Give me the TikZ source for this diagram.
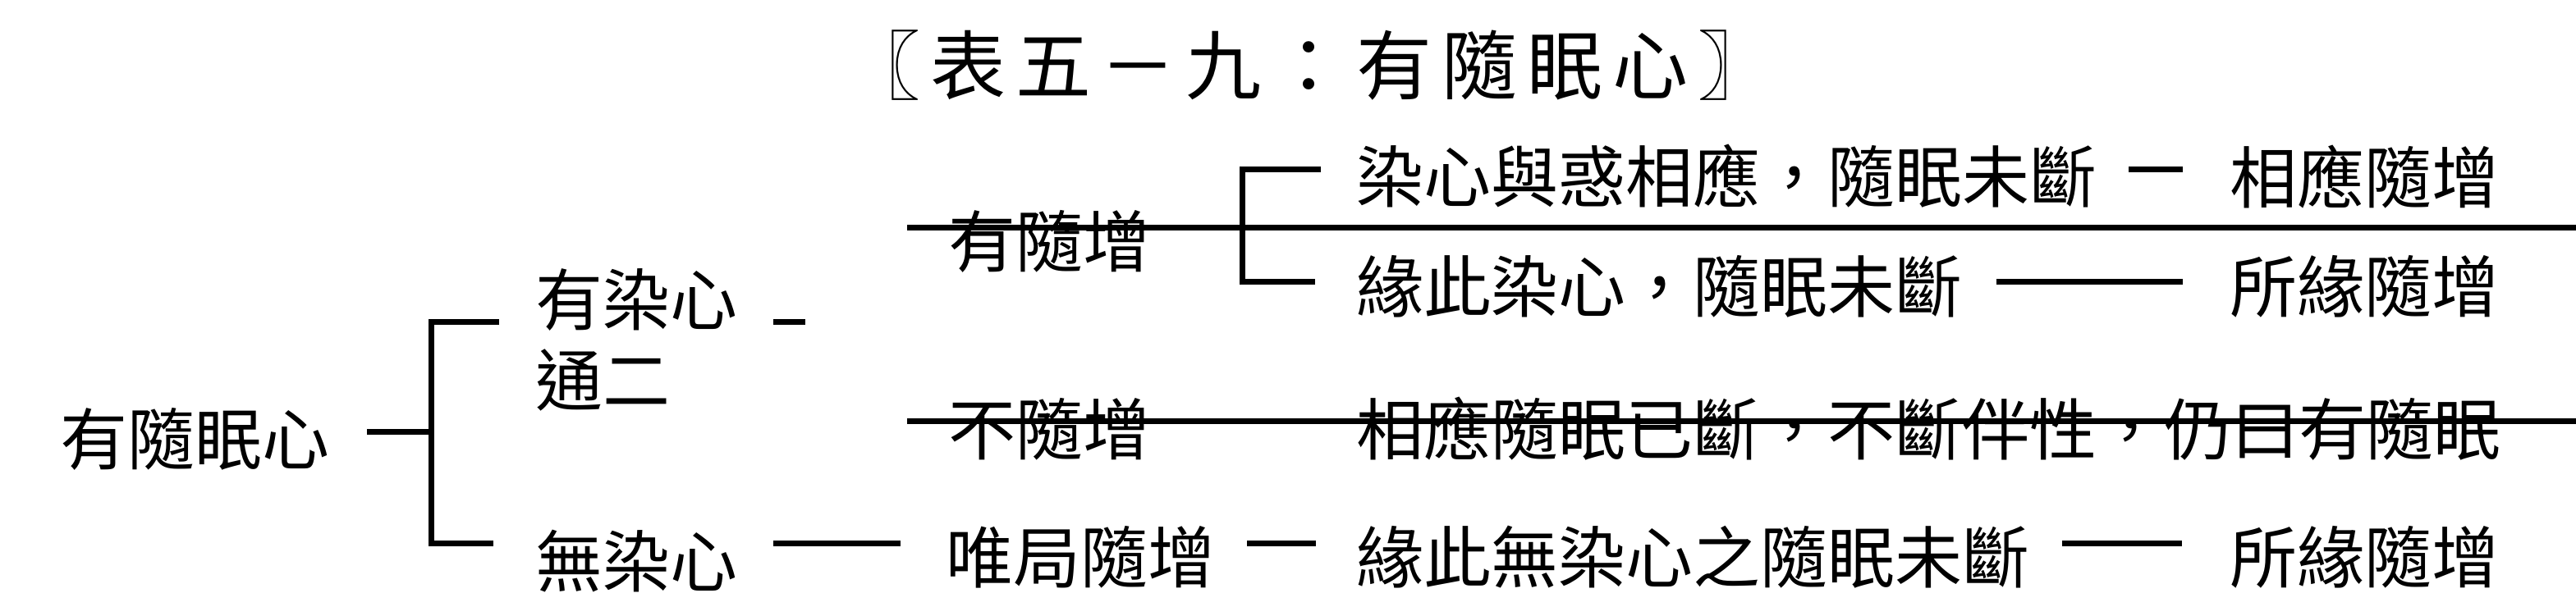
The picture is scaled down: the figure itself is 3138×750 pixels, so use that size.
\documentclass[tikz,border=0pt]{standalone}
\usepackage{fontspec}
\newfontfamily\cjk{Noto Sans CJK TC}
\newfontfamily\cjktitle[LetterSpace=13]{Noto Sans CJK TC}
\begin{document}
\begin{tikzpicture}[x=1pt,y=-1pt,
  txt/.style={anchor=west,inner sep=0pt,font=\cjk\fontsize{82}{82}\selectfont},
  ttl/.style={anchor=center,inner sep=0pt,font=\cjktitle\fontsize{92}{92}\selectfont},
  ln/.style={line width=7pt,line cap=butt,line join=miter}]
\useasboundingbox (0,0) rectangle (3138,750);
% title
\node[ttl] (title) at (1595,80) {〖表五－九：有隨眠心〗};
% text nodes
\node[txt] (A) at (73,535) {有隨眠心};
\node[txt] (B) at (652,365) {有染心};
\node[txt] (C) at (652,463) {通二};
\node[txt] (D) at (652,684) {無染心};
\node[txt] (E) at (1155,294) {有隨增};
\node[txt] (F) at (1155,523) {不隨增};
\node[txt] (G) at (1152,679) {唯局隨增};
\node[txt] (H) at (1652,215) {染心與惑相應，隨眠未斷};
\node[txt] (I) at (2716,216) {相應隨增};
\node[txt] (J) at (1652,349) {緣此染心，隨眠未斷};
\node[txt] (K) at (2716,349) {所緣隨增};
\node[txt] (L) at (1652,523) {相應隨眠已斷，不斷伴性，仍曰有隨眠};
\node[txt] (M) at (1652,679) {緣此無染心之隨眠未斷};
\node[txt] (N) at (2716,679) {所緣隨增};
% coordinates
\coordinate (a1) at (447,526);
\coordinate (b1m) at (525,526);
\coordinate (b1t) at (525,392);
\coordinate (b1b) at (525,662);
\coordinate (b1te) at (608,392);
\coordinate (b1be) at (601,662);
\coordinate (bd1) at (942,392);
\coordinate (bd2) at (981,392);
\coordinate (dd1) at (942,662);
\coordinate (dd2) at (1097,662);
\coordinate (gd1) at (1519,662);
\coordinate (gd2) at (1603,662);
\coordinate (md1) at (2512,662);
\coordinate (md2) at (2658,662);
\coordinate (l1a) at (1105,277);
\coordinate (l1b) at (3138,277);
\coordinate (b2t) at (1513,206);
\coordinate (b2b) at (1513,343);
\coordinate (b2te) at (1609,206);
\coordinate (b2be) at (1602,343);
\coordinate (hd1) at (2593,206);
\coordinate (hd2) at (2659,206);
\coordinate (jd1) at (2432,343);
\coordinate (jd2) at (2659,343);
\coordinate (l2a) at (1105,513);
\coordinate (l2b) at (3138,513);
% connectors
\draw[ln] (a1) -- (b1m);
\draw[ln] (b1te) -- (b1t) -- (b1b) -- (b1be);
\draw[ln] (bd1) -- (bd2);
\draw[ln] (dd1) -- (dd2);
\draw[ln] (gd1) -- (gd2);
\draw[ln] (md1) -- (md2);
\draw[ln] (l1a) -- (l1b);
\draw[ln] (b2te) -- (b2t) -- (b2b) -- (b2be);
\draw[ln] (hd1) -- (hd2);
\draw[ln] (jd1) -- (jd2);
\draw[ln] (l2a) -- (l2b);
\end{tikzpicture}
\end{document}
